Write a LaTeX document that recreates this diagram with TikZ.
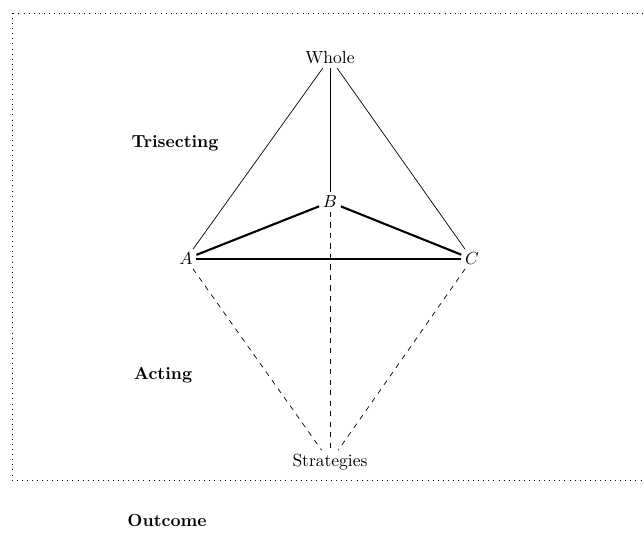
\documentclass[tikz,border=0pt]{standalone}
\usepackage{tikz}
\usetikzlibrary{positioning, calc}
\tikzset{
  vertex/.style={inner sep=2pt},
  phase/.style={font=\bfseries},
  edge/.style={very thick},
  spoke/.style={thin},
  plan/.style={thin, dashed}
}

\begin{document}
\begin{tikzpicture}[x=0.0201cm, y=-0.0201cm]
                \clip (0,0) rectangle (644,536);
                % Frame
                \draw[line width=0.5pt, dash pattern=on 0.5pt off 2.4pt] (12,13) rectangle (700,480);

                % Vertices
                \node[vertex] (whole) at (330,58) {Whole};
                \node[vertex] (b) at (330,202) {$B$};
                \node[vertex] (a) at (186,259) {$A$};
                \node[vertex] (c) at (472,259) {$C$};
                \node[vertex] (strat) at (330,462) {Strategies};

                % Phase labels
                \node[phase] (trisect) at (175,143) {Trisecting};
                \node[phase] (act) at (163,375) {Acting};
                \node[phase] (outcome) at (167,520) {Outcome};

                % Upper part
                \draw[spoke] (whole) -- (a);
                \draw[spoke] (whole) -- (b);
                \draw[spoke] (whole) -- (c);

                % Triangle
                \draw[edge] (a) -- (b);
                \draw[edge] (b) -- (c);
                \draw[edge] (a) -- (c);

                % Lower part
                \draw[plan] (a) -- (strat);
                \draw[plan] (b) -- (strat);
                \draw[plan] (c) -- (strat);
            \end{tikzpicture}
\end{document}
